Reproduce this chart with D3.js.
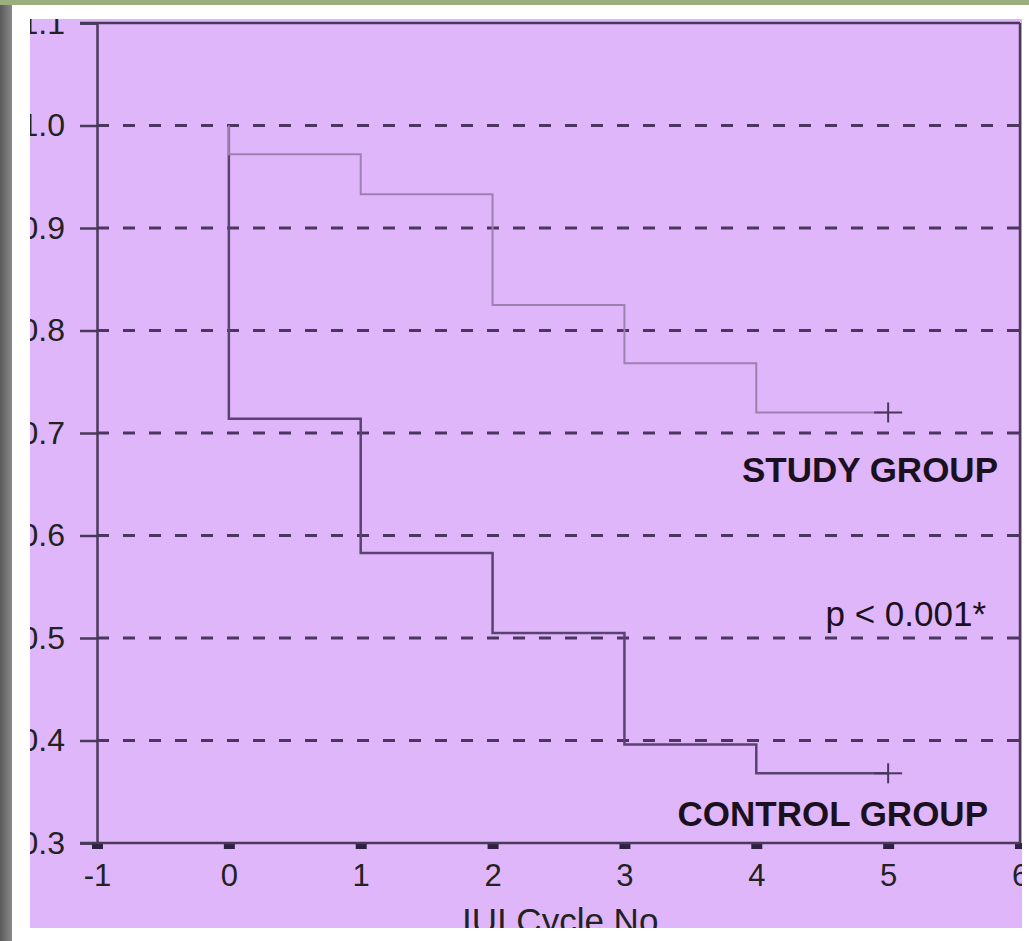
<!DOCTYPE html>
<html>
<head>
<meta charset="utf-8">
<script src="https://cdn.jsdelivr.net/npm/d3@7"></script>
<style>
  body { margin: 0; background: #fff; }
  text { font-family: Arial, "Liberation Sans", sans-serif; }
</style>
</head>
<body>
<div id="chart"></div>
<script>
// event times (IUI cycle) and survival after each step
const eventTimes = [0, 1, 2, 3, 4];
const studySurv = [0.972, 0.933, 0.825, 0.768, 0.720];
const controlSurv = [0.714, 0.583, 0.505, 0.396, 0.368];
const endTime = 5;
const xTicks = [-1, 0, 1, 2, 3, 4, 5, 6];
const yTicks = [0.3, 0.4, 0.5, 0.6, 0.7, 0.8, 0.9, 1.0, 1.1];
const gridTicks = [0.4, 0.5, 0.6, 0.7, 0.8, 0.9, 1.0];

const W = 1029, H = 941;
const svg = d3.select("#chart").append("svg").attr("width", W).attr("height", H);

// photo surroundings
svg.append("rect").attr("x", 0).attr("y", 0).attr("width", W).attr("height", 5).attr("fill", "#9aae80");
const defs = svg.append("defs");
const grad = defs.append("linearGradient").attr("id", "edge");
grad.append("stop").attr("offset", "0%").attr("stop-color", "#5a5a5a");
grad.append("stop").attr("offset", "100%").attr("stop-color", "#8a8a8a");
svg.append("rect").attr("x", 0).attr("y", 5).attr("width", 12).attr("height", H - 5).attr("fill", "url(#edge)");

const panel = { x: 30, y: 19, w: 992, h: 909 };
defs.append("clipPath").attr("id", "panel")
  .append("rect").attr("x", panel.x).attr("y", panel.y).attr("width", panel.w).attr("height", panel.h);

const g = svg.append("g").attr("clip-path", "url(#panel)");
g.append("rect").attr("x", panel.x).attr("y", panel.y).attr("width", panel.w).attr("height", panel.h)
  .attr("fill", "#e0b6fb");

const x = d3.scaleLinear().domain([-1, 6]).range([97, 1020]);
const y = d3.scaleLinear().domain([0.3, 1.1]).range([843, 23]);

const axisCol = "#4a3a5a";

// dashed grid
g.selectAll(".grid").data(gridTicks).enter().append("line")
  .attr("x1", x(-1)).attr("x2", x(6))
  .attr("y1", d => y(d)).attr("y2", d => y(d))
  .attr("stroke", "#4b3660").attr("stroke-width", 3)
  .attr("stroke-dasharray", "12,14");

// y axis
const yAxis = g.append("g").attr("transform", `translate(${x(-1)},0)`)
  .call(d3.axisLeft(y).tickValues(yTicks).tickSize(17).tickFormat(d3.format(".1f")));
yAxis.select(".domain").attr("stroke", axisCol).attr("stroke-width", 2.5);
yAxis.selectAll(".tick line").attr("stroke", axisCol).attr("stroke-width", 2.5);
yAxis.selectAll(".tick text").attr("font-size", 32).attr("fill", "#222")
  .attr("x", -32).attr("font-family", "Arial, 'Liberation Sans', sans-serif");

// x axis
const xAxis = g.append("g").attr("transform", `translate(0,${y(0.3)})`)
  .call(d3.axisBottom(x).tickValues(xTicks).tickSize(6).tickPadding(15).tickFormat(d => String(d)));
xAxis.select(".domain").remove();
xAxis.selectAll(".tick line").attr("stroke", "#2e2040").attr("stroke-width", 11);
xAxis.selectAll(".tick text").attr("font-size", 31).attr("fill", "#222")
  .attr("font-family", "Arial, 'Liberation Sans', sans-serif");

// frame
g.append("line").attr("x1", 80).attr("x2", x(6)).attr("y1", y(0.3)).attr("y2", y(0.3))
  .attr("stroke", axisCol).attr("stroke-width", 2.5);
g.append("line").attr("x1", 80).attr("x2", x(6)).attr("y1", y(1.1)).attr("y2", y(1.1))
  .attr("stroke", axisCol).attr("stroke-width", 2.5);
g.append("line").attr("x1", x(6)).attr("x2", x(6)).attr("y1", y(1.1)).attr("y2", y(0.3))
  .attr("stroke", axisCol).attr("stroke-width", 2.5);

// step curves
function stepPoints(surv) {
  const pts = [[eventTimes[0], 1.0]];
  surv.forEach((s, i) => {
    pts.push([eventTimes[i], s]);
    const next = i + 1 < eventTimes.length ? eventTimes[i + 1] : endTime;
    pts.push([next, s]);
  });
  return pts;
}
const line = d3.line().x(d => x(d[0])).y(d => y(d[1]));

g.append("path").attr("d", line(stepPoints(controlSurv)))
  .attr("fill", "none").attr("stroke", "#5a4272").attr("stroke-width", 2.5);
g.append("path").attr("d", line(stepPoints(studySurv)))
  .attr("fill", "none").attr("stroke", "#9e80b0").attr("stroke-width", 2);

// censor marks
[studySurv, controlSurv].forEach(s => {
  const cx = x(endTime), cy = y(s[s.length - 1]);
  g.append("line").attr("x1", cx - 14).attr("x2", cx + 14).attr("y1", cy).attr("y2", cy)
    .attr("stroke", "#4a3560").attr("stroke-width", 2);
  g.append("line").attr("x1", cx).attr("x2", cx).attr("y1", cy - 10).attr("y2", cy + 10)
    .attr("stroke", "#4a3560").attr("stroke-width", 2);
});

// labels
g.append("text").attr("x", 998).attr("y", 482).attr("text-anchor", "end")
  .attr("font-size", 35).attr("font-weight", "bold").attr("fill", "#1a1020").text("STUDY GROUP");
g.append("text").attr("x", 986).attr("y", 626).attr("text-anchor", "end")
  .attr("font-size", 35).attr("fill", "#1a1020").text("p < 0.001*");
g.append("text").attr("x", 988).attr("y", 826).attr("text-anchor", "end")
  .attr("font-size", 35).attr("font-weight", "bold").attr("fill", "#1a1020").text("CONTROL GROUP");
g.append("text").attr("x", 565).attr("y", 933).attr("text-anchor", "middle")
  .attr("font-size", 35).attr("font-family", "'Liberation Serif', 'Times New Roman', serif")
  .attr("fill", "#222").text("IUI Cycle No.");
</script>
</body>
</html>
